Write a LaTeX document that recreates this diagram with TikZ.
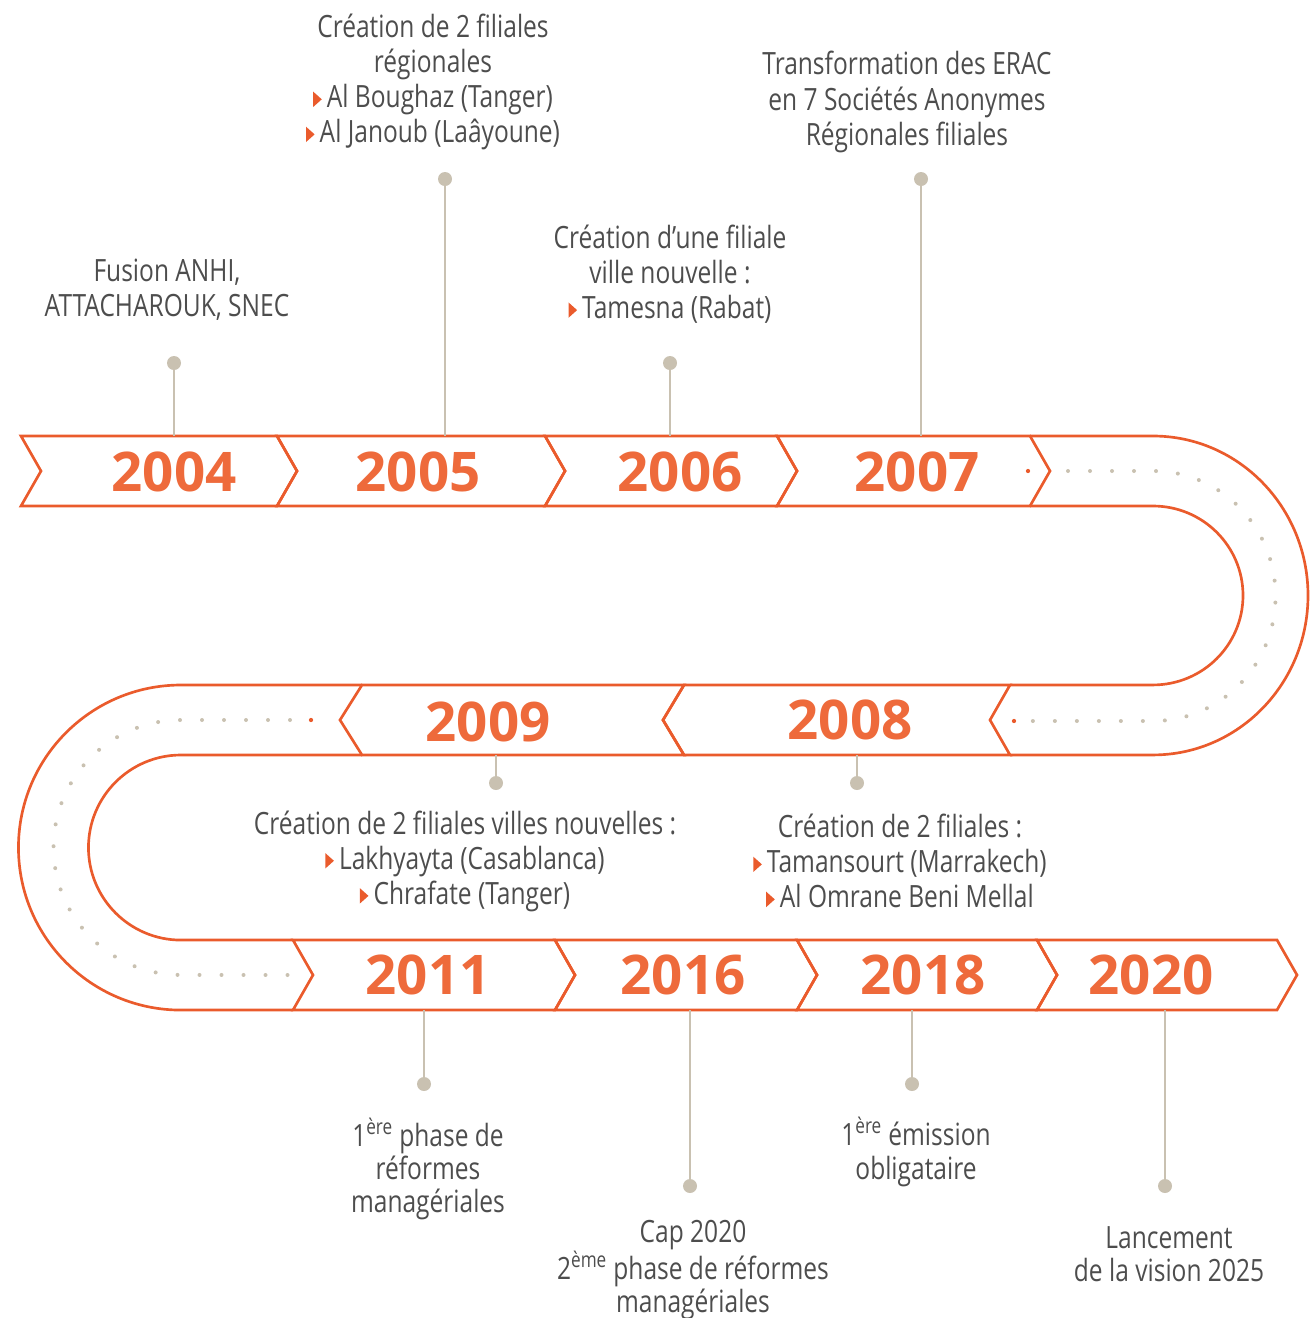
\documentclass[tikz,border=0pt]{standalone}
\usepackage{fontspec}
\setmainfont{Open Sans}[FakeStretch=0.8]
\newfontfamily\yrfont{Open Sans}
\definecolor{bandc}{HTML}{EA5B2C}
\definecolor{yrc}{HTML}{EE6A3B}
\definecolor{grayc}{HTML}{C9C1B1}
\definecolor{txtc}{HTML}{4D4D4D}
\newcommand\bul{{\color{bandc}\tikz[baseline=0pt]\fill (0,0.02em) -- (0,0.52em) -- (0.28em,0.27em) -- cycle;}\,}
\begin{document}
\begin{tikzpicture}[x=0.75pt,y=-0.75pt,
  band/.style={draw=bandc,line width=2pt,line join=miter},
  yr/.style={text=yrc,font=\yrfont\bfseries\fontsize{41}{41}\selectfont,inner sep=0pt},
  conn/.style={draw=grayc,line width=2pt},
  pin/.style={circle,fill=grayc,inner sep=0pt,minimum size=10.5pt},
  dotline/.style={draw=grayc,line width=3pt,line cap=round,dash pattern=on 0pt off 16.5pt},
  lbl/.style={text=txtc,align=center,inner sep=0pt,font=\fontsize{23}{26.3}\selectfont},
  lblb/.style={text=txtc,align=center,inner sep=0pt,font=\fontsize{23}{25}\selectfont}]
\useasboundingbox (0,0) rectangle (1310,1318);

% ---------- dotted guide lines ----------
\draw[dotline] (1068,471) -- (1153,471) arc[start angle=90,end angle=-90,x radius=91.9pt,y radius=93.75pt] -- (1024,721);
\draw[dotline] (290,720) -- (181,720) arc[start angle=90,end angle=270,radius=95.6pt] -- (292,975);
\fill[bandc] (1028,471) circle (1.6pt);
\fill[bandc] (1014,721) circle (1.6pt);
\fill[bandc] (311,720) circle (1.6pt);

% ---------- top row ----------
\draw[band] (21,436) -- (277,436) -- (297,471) -- (277,506) -- (21,506) -- (41,471) -- cycle;
\draw[band] (277,436) -- (545,436) -- (565,471) -- (545,506) -- (277,506) -- (297,471) -- cycle;
\draw[band] (545,436) -- (777,436) -- (797,471) -- (777,506) -- (545,506) -- (565,471) -- cycle;
\draw[band] (777,436) -- (1030,436) -- (1050,471) -- (1030,506) -- (777,506) -- (797,471) -- cycle;
% right U
\draw[band] (1030,436) -- (1153,436) arc[start angle=90,end angle=-90,x radius=116.25pt,y radius=119.6pt] -- (1010,755);
\draw[band] (1030,506) -- (1153,506) arc[start angle=90,end angle=-90,x radius=67.5pt,y radius=67.1pt] -- (1010,685);

% ---------- middle row ----------
\draw[band] (1010,685) -- (684,685) -- (663,720) -- (684,755) -- (1010,755) -- (990,720) -- cycle;
\draw[band] (684,685) -- (362,685) -- (340,720) -- (362,755) -- (684,755) -- (663,720) -- cycle;
% left U
\draw[band] (362,685) -- (181,685) arc[start angle=90,end angle=270,radius=121.9pt] -- (293,1010);
\draw[band] (362,755) -- (181,755) arc[start angle=90,end angle=270,radius=69.4pt] -- (293,940);

% ---------- bottom row ----------
\draw[band] (293,940) -- (555,940) -- (575,975) -- (555,1010) -- (293,1010) -- (313,975) -- cycle;
\draw[band] (555,940) -- (797,940) -- (817,975) -- (797,1010) -- (555,1010) -- (575,975) -- cycle;
\draw[band] (797,940) -- (1037,940) -- (1057,975) -- (1037,1010) -- (797,1010) -- (817,975) -- cycle;
\draw[band] (1037,940) -- (1277,940) -- (1297,975) -- (1277,1010) -- (1037,1010) -- (1057,975) -- cycle;

% ---------- years ----------
\node[yr] (y2004) at (174,472) {2004};
\node[yr] (y2005) at (418,472) {2005};
\node[yr] (y2006) at (680,472) {2006};
\node[yr] (y2007) at (917,472) {2007};
\node[yr] (y2008) at (850,720) {2008};
\node[yr] (y2009) at (488,722) {2009};
\node[yr] (y2011) at (428,975) {2011};
\node[yr] (y2016) at (683,975) {2016};
\node[yr] (y2018) at (923,975) {2018};
\node[yr] (y2020) at (1151,975) {2020};

% ---------- pins ----------
\node[pin] (p2004) at (174,363) {};  \coordinate (b2004) at (174,436);
\node[pin] (p2005) at (445,179) {};  \coordinate (b2005) at (445,436);
\node[pin] (p2006) at (670,363) {};  \coordinate (b2006) at (670,436);
\node[pin] (p2007) at (921,179) {};  \coordinate (b2007) at (921,436);
\node[pin] (p2009) at (496,783) {};  \coordinate (b2009) at (496,755);
\node[pin] (p2008) at (857,783) {};  \coordinate (b2008) at (857,755);
\node[pin] (p2011) at (424,1084) {}; \coordinate (b2011) at (424,1010);
\node[pin] (p2016) at (690,1186) {}; \coordinate (b2016) at (690,1010);
\node[pin] (p2018) at (912,1084) {}; \coordinate (b2018) at (912,1010);
\node[pin] (p2020) at (1165,1186) {};\coordinate (b2020) at (1165,1010);
\foreach \k in {2004,2005,2006,2007,2009,2008,2011,2016,2018,2020}
  \draw[conn] (p\k) -- (b\k);

% ---------- labels ----------
\node[lbl] (t2004) at (167,290) {Fusion ANHI,\\ATTACHAROUK, SNEC};
\node[lbl] (t2005) at (433,82) {Création de 2 filiales\\régionales\\\bul Al Boughaz (Tanger)\\\bul Al Janoub (Laâyoune)};
\node[lbl] (t2006) at (670,274) {Création d’une filiale\\ville nouvelle :\\\bul Tamesna (Rabat)};
\node[lbl] (t2007) at (907,102) {Transformation des ERAC\\en 7 Sociétés Anonymes\\Régionales filiales};
\node[lbl] (t2009) at (465,861) {Création de 2 filiales villes nouvelles :\\\bul Lakhyayta (Casablanca)\\\bul Chrafate (Tanger)};
\node[lbl] (t2008) at (900,861) {Création de 2 filiales :\\\bul Tamansourt (Marrakech)\\\bul Al Omrane Beni Mellal};
\node[lblb] (t2011) at (428,1169) {1\textsuperscript{ère} phase de\\réformes\\managériales};
\node[lblb] (t2016) at (693,1270) {Cap 2020\\2\textsuperscript{ème} phase de réformes\\managériales};
\node[lblb] (t2018) at (916,1152) {1\textsuperscript{ère} émission\\obligataire};
\node[lblb] (t2020) at (1169,1254) {Lancement\\de la vision 2025};
\end{tikzpicture}
\end{document}
